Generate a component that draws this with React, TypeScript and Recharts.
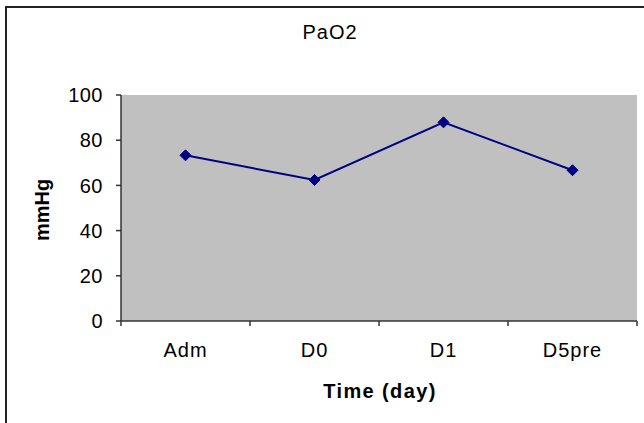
import React from 'react';
import { LineChart, Line, XAxis, YAxis, CartesianGrid } from 'recharts';

const categories = ['Adm', 'D0', 'D1', 'D5pre'];
const pao2Values = [73.3, 62.4, 87.9, 66.7];
const yTicks = [0, 20, 40, 60, 80, 100];

const data = categories.map((day, i) => ({ day, value: pao2Values[i] }));

const W = 644;
const H = 423;
const FONT = '"Liberation Sans", Arial, sans-serif';
const PLOT_LEFT = 121;
const PLOT_RIGHT = 637;
const BAND = (PLOT_RIGHT - PLOT_LEFT) / categories.length;
const X_TICK_SIZE = 5;
const X_TICK_MARGIN = 17;

const XTick = (props: any) => {
  const { x, y, payload, index } = props;
  const axisY = y - X_TICK_MARGIN - X_TICK_SIZE;
  const left = x - BAND / 2;
  const right = x + BAND / 2;
  return (
    <g>
      <line x1={left} x2={left} y1={axisY} y2={axisY + X_TICK_SIZE} stroke="#333" strokeWidth={1.5} />
      {index === categories.length - 1 && (
        <line x1={right} x2={right} y1={axisY} y2={axisY + X_TICK_SIZE} stroke="#333" strokeWidth={1.5} />
      )}
      <text x={x} y={y} dy="0.71em" textAnchor="middle" fill="#000" fontSize={20} fontFamily={FONT} letterSpacing={1}>
        {payload.value}
      </text>
    </g>
  );
};

const Diamond = (props: any) => {
  const { cx, cy } = props;
  if (cx == null || cy == null) return null;
  const s = 5.5;
  return <path d={`M${cx},${cy - s}L${cx + s},${cy}L${cx},${cy + s}L${cx - s},${cy}Z`} fill="#000080" stroke="#000080" />;
};

export default function App() {
  return (
    <div style={{ position: 'fixed', left: 0, top: 0, width: W, height: H, background: '#fff', overflow: 'hidden' }}>
      <div style={{ position: 'absolute', left: 5, top: 6, width: W, height: H, borderLeft: '2px solid #222', borderTop: '2px solid #222' }} />
      <div style={{ position: 'absolute', left: 330, top: 22, transform: 'translateX(-50%)', fontFamily: FONT, fontSize: 20, lineHeight: '20px', letterSpacing: 1, whiteSpace: 'nowrap', color: '#000' }}>
        PaO2
      </div>
      <div style={{ position: 'absolute', left: 41.5, top: 210, transform: 'translate(-50%, -50%) rotate(-90deg)', fontFamily: FONT, fontSize: 20, lineHeight: '20px', fontWeight: 'bold', whiteSpace: 'nowrap', color: '#000' }}>
        mmHg
      </div>
      <div style={{ position: 'absolute', left: 380, top: 381, transform: 'translateX(-50%)', fontFamily: FONT, fontSize: 20, lineHeight: '20px', fontWeight: 'bold', letterSpacing: 1.4, whiteSpace: 'nowrap', color: '#000' }}>
        Time (day)
      </div>
      <div style={{ position: 'absolute', left: 0, top: 0 }}>
        <LineChart width={W} height={H} data={data} margin={{ top: 95, right: W - PLOT_RIGHT, left: PLOT_LEFT - 60, bottom: 42 }}>
          <CartesianGrid fill="#c0c0c0" stroke="none" horizontal={false} vertical={false} />
          <XAxis
            dataKey="day"
            type="category"
            height={60}
            padding={{ left: BAND / 2, right: BAND / 2 }}
            tickLine={false}
            tickSize={X_TICK_SIZE}
            tickMargin={X_TICK_MARGIN}
            axisLine={{ stroke: '#333', strokeWidth: 1.5 }}
            tick={<XTick />}
            interval={0}
          />
          <XAxis xAxisId="top" dataKey="day" orientation="top" height={0} tick={false} tickLine={false} axisLine={{ stroke: '#808080', strokeWidth: 2 }} />
          <YAxis
            domain={[0, 100]}
            ticks={yTicks}
            width={60}
            tickSize={5}
            tickMargin={13}
            axisLine={{ stroke: '#333', strokeWidth: 1.5 }}
            tickLine={{ stroke: '#333', strokeWidth: 1.5 }}
            tick={{ fill: '#000', fontSize: 20, fontFamily: FONT, letterSpacing: 0.5 }}
            interval={0}
          />
          <YAxis yAxisId="r" orientation="right" width={0} domain={[0, 100]} tick={false} tickLine={false} axisLine={{ stroke: '#808080', strokeWidth: 2 }} />
          <Line
            dataKey="value"
            stroke="#000080"
            strokeWidth={2}
            dot={<Diamond />}
            activeDot={false}
            isAnimationActive={false}
          />
        </LineChart>
      </div>
    </div>
  );
}
